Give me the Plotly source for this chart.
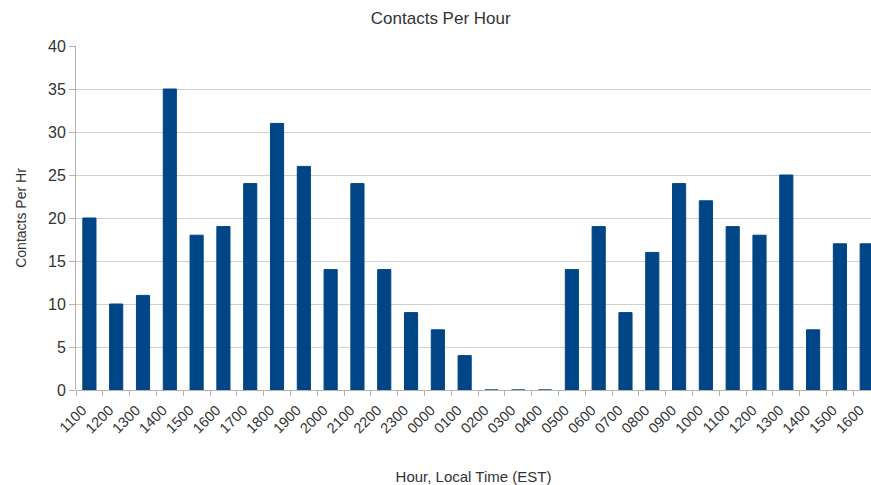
import plotly.graph_objects as go

hours = ["1100","1200","1300","1400","1500","1600","1700","1800","1900","2000",
         "2100","2200","2300","0000","0100","0200","0300","0400","0500","0600",
         "0700","0800","0900","1000","1100","1200","1300","1400","1500","1600"]
contacts = [20,10,11,35,18,19,24,31,26,14,
            24,14,9,7,4,0,0,0,14,19,
            9,16,24,22,19,18,25,7,17,17]

pos = list(range(len(hours)))
color = "#004586"

fig = go.Figure(go.Bar(
    x=pos, y=contacts, width=0.49,
    marker=dict(color=color, line=dict(color=color, width=1)),
))

fig.update_layout(
    width=871, height=485,
    margin=dict(l=76, r=0, t=46, b=95),
    paper_bgcolor="white", plot_bgcolor="white",
    font=dict(family="Liberation Sans, Arial, sans-serif", size=14, color="#333333"),
    title=dict(text="Contacts Per Hour", x=0.506, xanchor="center", y=0.962, yanchor="middle",
               font=dict(size=17, color="#333333")),
    showlegend=False,
)
fig.update_xaxes(
    range=[-0.5, 29.16], automargin=False,
    tickmode="array", tickvals=pos, ticktext=hours, tickangle=-45,
    ticklabeloverflow="allow", ticklabelshift=-7, ticklabelstandoff=8,
    ticks="", showgrid=False, zeroline=False,
    showline=False,
    minor=dict(ticks="outside", tick0=0.5, dtick=1, ticklen=5, tickcolor="#b3b3b3", showgrid=False),
    tickfont=dict(size=14.5, color="#333333"),
    title=dict(text="Hour, Local Time (EST)", font=dict(size=15, color="#333333"), standoff=38),
)
fig.update_yaxes(
    range=[0, 40], dtick=5, tick0=0, automargin=False,
    showgrid=True, gridcolor="#d0d0d0", gridwidth=1,
    zeroline=True, zerolinecolor="#b3b3b3", zerolinewidth=1,
    showline=True, linecolor="#b3b3b3", linewidth=1,
    ticks="outside", ticklen=6, tickcolor="#b3b3b3",
    tickfont=dict(size=16, color="#333333"),
    title=dict(text="Contacts Per Hr", font=dict(size=14, color="#333333"), standoff=18),
)

fig.write_html(
    "out.html",
    config={"displayModeBar": False},
    post_script="document.body.style.margin='0';document.body.style.overflow='hidden';",
)
